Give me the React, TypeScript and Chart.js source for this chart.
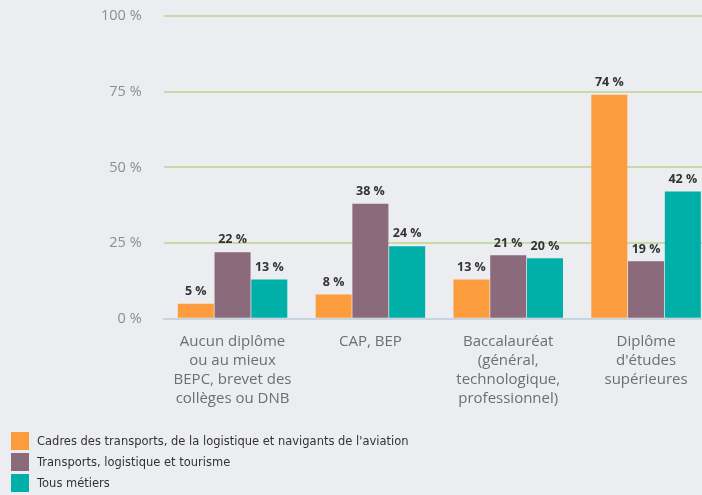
import React, { useEffect, useRef } from "react";
import { Chart, registerables } from "chart.js";

Chart.register(...registerables);

const categories: string[][] = [
  ["Aucun diplôme", "ou au mieux", "BEPC, brevet des", "collèges ou DNB"],
  ["CAP, BEP"],
  ["Baccalauréat", "(général,", "technologique,", "professionnel)"],
  ["Diplôme", "d'études", "supérieures"],
];
const seriesNames = [
  "Cadres des transports, de la logistique et navigants de l'aviation",
  "Transports, logistique et tourisme",
  "Tous métiers",
];
const cadresValues = [5, 8, 13, 74];
const transportsValues = [22, 38, 21, 19];
const tousValues = [13, 24, 20, 42];
const yTicks = [0, 25, 50, 75, 100];
const colors = ["#fd9c3c", "#8b6a7b", "#00afa8"];

const valueLabelPlugin = {
  id: "valueLabels",
  afterDatasetsDraw(chart: any) {
    const ctx = chart.ctx;
    ctx.save();
    ctx.font = "bold 12.5px 'Open Sans'";
    ctx.fillStyle = "#333333";
    ctx.textAlign = "center";
    ctx.textBaseline = "bottom";
    chart.data.datasets.forEach((ds: any, i: number) => {
      const meta = chart.getDatasetMeta(i);
      meta.data.forEach((bar: any, j: number) => {
        ctx.fillText(ds.data[j] + " %", bar.x, bar.y - 6);
      });
    });
    ctx.restore();
  },
};

const customLegendPlugin = {
  id: "customLegend",
  afterDraw(chart: any) {
    const ctx = chart.ctx;
    ctx.save();
    ctx.font = "11.5px 'DejaVu Sans'";
    ctx.textAlign = "left";
    ctx.textBaseline = "middle";
    chart.data.datasets.forEach((ds: any, i: number) => {
      const y = 432 + i * 21;
      ctx.fillStyle = ds.backgroundColor;
      ctx.fillRect(11, y, 18, 18);
      ctx.fillStyle = "#333333";
      ctx.fillText(ds.label, 37, y + 10);
    });
    ctx.restore();
  },
};

export default function App() {
  const ref = useRef<HTMLCanvasElement | null>(null);
  useEffect(() => {
    if (!ref.current) return;
    const chart = new Chart(ref.current, {
      type: "bar",
      data: {
        labels: categories,
        datasets: [
          { label: seriesNames[0], data: cadresValues, backgroundColor: colors[0] },
          { label: seriesNames[1], data: transportsValues, backgroundColor: colors[1] },
          { label: seriesNames[2], data: tousValues, backgroundColor: colors[2] },
        ],
      },
      options: {
        animation: false,
        responsive: false,
        maintainAspectRatio: false,
        layout: { padding: { top: 16, left: 79, right: 0, bottom: 82 } },
        datasets: { bar: { categoryPercentage: 0.8, barPercentage: 0.98 } },
        plugins: { legend: { display: false }, tooltip: { enabled: false } },
        scales: {
          x: {
            grid: { display: false },
            border: { color: "#c9d4de", width: 2 },
            ticks: {
              color: "#6b6e72",
              font: { family: "'Open Sans'", size: 15, lineHeight: 1.27 },
              padding: 5,
              maxRotation: 0,
              autoSkip: false,
            },
          },
          y: {
            min: 0,
            max: 100,
            afterBuildTicks(axis: any) {
              axis.ticks = yTicks.map((v) => ({ value: v }));
            },
            afterFit(axis: any) {
              axis.paddingTop = 0;
              axis.paddingBottom = 0;
            },
            grid: {
              color: (c: any) => (c.tick && c.tick.value === 0 ? "rgba(0,0,0,0)" : "#c8daa6"),
              lineWidth: 2,
              drawTicks: false,
            },
            border: { display: false },
            ticks: {
              color: "#8a8d92",
              font: { family: "'Open Sans'", size: 14.5 },
              padding: 22,
              callback: (v: any) => v + " %",
            },
          },
        },
      },
      plugins: [valueLabelPlugin, customLegendPlugin],
    });
    return () => chart.destroy();
  }, []);
  return (
    <div
      style={{
        position: "fixed",
        left: 0,
        top: 0,
        width: 702,
        height: 495,
        overflow: "hidden",
        background: "#ecedf0",
      }}
    >
      <canvas ref={ref} width={715} height={495} style={{ display: "block" }} />
    </div>
  );
}
